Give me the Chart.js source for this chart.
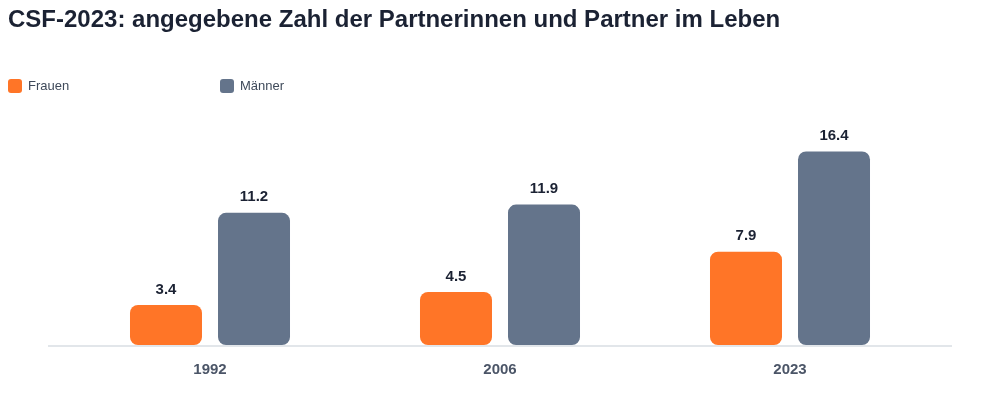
<!DOCTYPE html>
<html>
<head>
<meta charset="utf-8">
<script src="https://cdn.jsdelivr.net/npm/chart.js@4"></script>
<style>
  body { margin: 0; background: #fff; font-family: "Liberation Sans", Arial, sans-serif; }
  #wrap { position: relative; width: 1000px; height: 400px; }
  h1 { position: absolute; left: 8px; top: 5px; margin: 0; font-size: 24px; font-weight: bold; color: #1b2233; }
  .legend { position: absolute; top: 78px; font-size: 13px; color: #3f4a5a; display: flex; align-items: center; }
  .legend span.box { width: 14px; height: 14px; border-radius: 3px; margin-right: 6px; display: inline-block; }
  #chartBox { position: absolute; left: 0; top: 0; width: 1000px; height: 400px; }
</style>
</head>
<body>
<div id="wrap">
  <div id="chartBox"><canvas id="chart" width="1000" height="400"></canvas></div>
  <h1>CSF-2023: angegebene Zahl der Partnerinnen und Partner im Leben</h1>
  <div class="legend" style="left:8px"><span class="box" style="background:#ff7527"></span>Frauen</div>
  <div class="legend" style="left:220px"><span class="box" style="background:#64748b"></span>Männer</div>
</div>
<script>
const years = ['1992', '2006', '2023'];
const frauen = [3.4, 4.5, 7.9];
const maenner = [11.2, 11.9, 16.4];

// value labels above each bar
const valueLabels = {
    id: 'valueLabels',
    afterDatasetsDraw(chart) {
        const ctx = chart.ctx;
        ctx.save();
        ctx.font = 'bold 15px "Liberation Sans", Arial, sans-serif';
        ctx.fillStyle = '#1b2233';
        ctx.textAlign = 'center';
        ctx.textBaseline = 'bottom';
        chart.data.datasets.forEach((ds, i) => {
            chart.getDatasetMeta(i).data.forEach((bar, j) => {
                ctx.fillText(ds.data[j].toFixed(1), bar.x, bar.y - 8);
            });
        });
        ctx.restore();
    }
};

// light base line, a bit wider than the plot area
const baseLine = {
    id: 'baseLine',
    beforeDatasetsDraw(chart) {
        const { ctx, chartArea } = chart;
        const y = chart.scales.y.getPixelForValue(0) + 1;
        ctx.save();
        ctx.strokeStyle = '#e2e6ea';
        ctx.lineWidth = 2;
        ctx.beginPath();
        ctx.moveTo(chartArea.left - 17, y);
        ctx.lineTo(chartArea.right + 17, y);
        ctx.stroke();
        ctx.restore();
    }
};

new Chart(document.getElementById('chart'), {
    type: 'bar',
    data: {
        labels: years,
        datasets: [
            { label: 'Frauen', data: frauen, backgroundColor: '#ff7527', borderRadius: 8, borderSkipped: false },
            { label: 'Männer', data: maenner, backgroundColor: '#64748b', borderRadius: 8, borderSkipped: false }
        ]
    },
    options: {
        responsive: false,
        animation: false,
        devicePixelRatio: 1,
        layout: { padding: { top: 109, left: 65, right: 65, bottom: 13 } },
        datasets: { bar: { categoryPercentage: 0.607, barPercentage: 0.818 } },
        plugins: { legend: { display: false }, title: { display: false }, tooltip: { enabled: false } },
        scales: {
            x: {
                grid: { display: false },
                border: { display: false },
                ticks: { color: '#4b5567', font: { size: 15, weight: 'bold', family: '"Liberation Sans", Arial, sans-serif' }, padding: 8 }
            },
            y: { display: false, min: 0, max: 20 }
        }
    },
    plugins: [baseLine, valueLabels]
});
</script>
</body>
</html>
